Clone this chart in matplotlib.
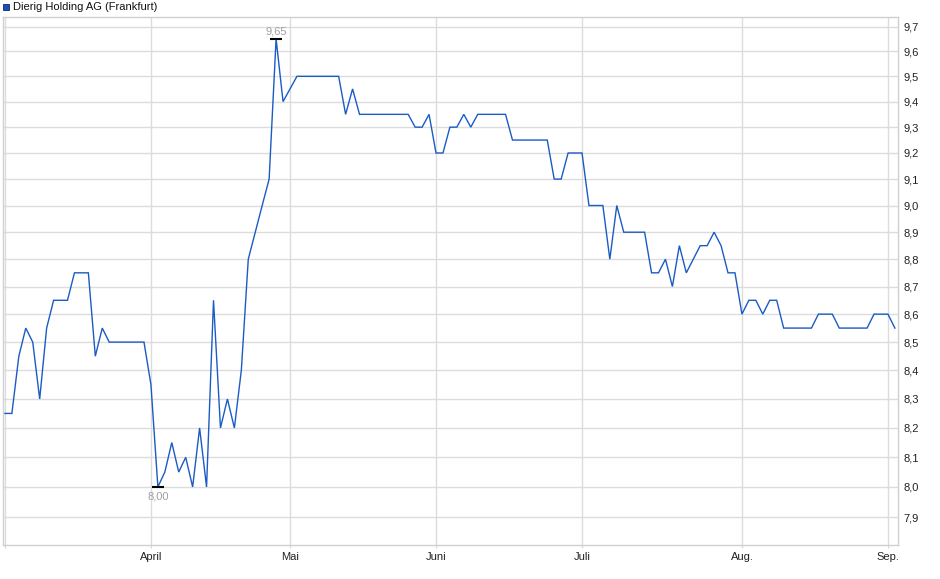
import matplotlib
matplotlib.use("Agg")
import matplotlib.pyplot as plt
from matplotlib.ticker import FixedLocator, FuncFormatter, NullLocator
from matplotlib.patches import Rectangle

plt.rcParams['font.family'] = ['Liberation Sans', 'DejaVu Sans']

# chart data (one value per trading day)
title = "Dierig Holding AG (Frankfurt)"
prices = [
    8.25, 8.25, 8.45, 8.55, 8.50, 8.30, 8.55, 8.65, 8.65, 8.65,
    8.75, 8.75, 8.75, 8.45, 8.55, 8.50, 8.50, 8.50, 8.50, 8.50,
    8.50, 8.35, 8.00, 8.05, 8.15, 8.05, 8.10, 8.00, 8.20, 8.00,
    8.65, 8.20, 8.30, 8.20, 8.40, 8.80, 8.90, 9.00, 9.10, 9.65,
    9.40, 9.45, 9.50, 9.50, 9.50, 9.50, 9.50, 9.50, 9.50, 9.35,
    9.45, 9.35, 9.35, 9.35, 9.35, 9.35, 9.35, 9.35, 9.35, 9.30,
    9.30, 9.35, 9.20, 9.20, 9.30, 9.30, 9.35, 9.30, 9.35, 9.35,
    9.35, 9.35, 9.35, 9.25, 9.25, 9.25, 9.25, 9.25, 9.25, 9.10,
    9.10, 9.20, 9.20, 9.20, 9.00, 9.00, 9.00, 8.80, 9.00, 8.90,
    8.90, 8.90, 8.90, 8.75, 8.75, 8.80, 8.70, 8.85, 8.75, 8.80,
    8.85, 8.85, 8.90, 8.85, 8.75, 8.75, 8.60, 8.65, 8.65, 8.60,
    8.65, 8.65, 8.55, 8.55, 8.55, 8.55, 8.55, 8.60, 8.60, 8.60,
    8.55, 8.55, 8.55, 8.55, 8.55, 8.60, 8.60, 8.60, 8.55,
]
month_pos = [0, 21, 41, 62, 83, 106, 127]
month_labels = ["", "April", "Mai", "Juni", "Juli", "Aug.", "Sep."]
y_ticks = [7.9, 8.0, 8.1, 8.2, 8.3, 8.4, 8.5, 8.6, 8.7, 8.8,
           9.0, 9.1, 9.2, 9.3, 9.4, 9.5, 9.6, 9.7, 8.9]

W, H = 940, 579
fig = plt.figure(figsize=(W / 100, H / 100), dpi=100)
ax = fig.add_axes([2.7 / W, 1 - 545 / H, (898.3 - 2.7) / W, (545 - 16.7) / H])

days = list(range(len(prices)))
ax.plot(days, prices, color='#1a5bc4', lw=1.0, solid_joinstyle='miter', zorder=3)

ax.set_yscale('log')
ax.set_ylim(7.808, 9.740)
ax.set_xlim(-0.32, 128.49)

ax.yaxis.set_major_locator(FixedLocator(sorted(y_ticks)))
ax.yaxis.set_minor_locator(NullLocator())
ax.yaxis.set_major_formatter(FuncFormatter(lambda v, p: ("%.1f" % v).replace('.', ',')))
ax.yaxis.tick_right()
ax.tick_params(axis='y', length=0, pad=4, labelsize=8, labelcolor='#222222')

ax.set_xticks(month_pos)
ax.set_xticklabels(month_labels)
ax.tick_params(axis='x', length=2, color='#d6d6d6', pad=3, labelsize=8, labelcolor='#222222')

ax.grid(True, color='#dcdcdc', lw=1.0)
ax.set_axisbelow(True)
for s in ax.spines.values():
    s.set_color('#d0d0d0')
    s.set_linewidth(1.0)

# high / low markers
hi = max(prices)
lo = min(prices)
i_hi = prices.index(hi)
i_lo = prices.index(lo)
ax.plot([i_hi], [hi], marker='_', ms=9, mew=1.5, color='black', zorder=4)
ax.plot([i_lo], [lo], marker='_', ms=9, mew=1.5, color='black', zorder=4)
ax.annotate(("%.2f" % hi).replace('.', ','), (i_hi, hi), xytext=(0, 2),
            textcoords='offset points', ha='center', va='bottom', fontsize=8, color='#a0a0a0')
ax.annotate(("%.2f" % lo).replace('.', ','), (i_lo, lo), xytext=(0, -3),
            textcoords='offset points', ha='center', va='top', fontsize=8, color='#a0a0a0')

# title with legend square
fig.patches.append(Rectangle((2.7 / W, 1 - 10.3 / H), 6.3 / W, 6.3 / H, transform=fig.transFigure,
                             facecolor='#1a4fb8', edgecolor='#0d2a66', lw=0.6))
fig.text(13 / W, 1 - 7 / H, title, ha='left', va='center', fontsize=8, color='#111111')

fig.savefig("out.png", dpi=100)
